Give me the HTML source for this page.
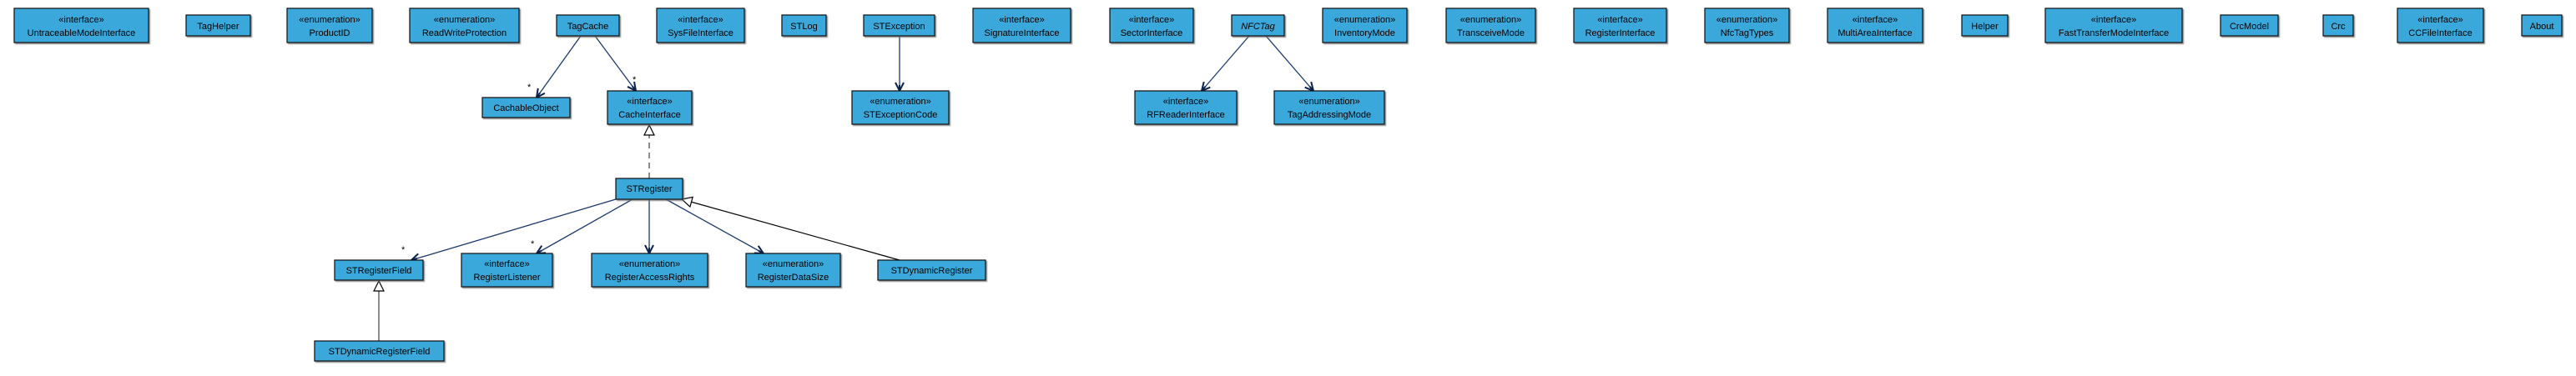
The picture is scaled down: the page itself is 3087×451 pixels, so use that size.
<!DOCTYPE html>
<html><head><meta charset="utf-8"><style>
html,body{margin:0;padding:0;background:#fff;}
svg{display:block;}
text{font-family:"Liberation Sans",sans-serif;font-size:11px;fill:#000;}
</style></head><body>
<svg width="3087" height="451" viewBox="0 0 3087 451" xmlns="http://www.w3.org/2000/svg">
<defs>
<filter id="sh" x="-10%" y="-10%" width="130%" height="150%"><feDropShadow dx="1.5" dy="1.5" stdDeviation="0.6" flood-color="#777" flood-opacity="0.8"/></filter>
<marker id="op" viewBox="0 0 12 12" refX="11" refY="6" markerWidth="12" markerHeight="12" markerUnits="userSpaceOnUse" orient="auto"><polyline points="1,1 11,6 1,11" fill="none" stroke="#0b2150" stroke-width="2"/><line x1="4" y1="6" x2="11" y2="6" stroke="#0b2150" stroke-width="2"/></marker>
<marker id="tri" viewBox="0 0 14 14" refX="13" refY="7" markerWidth="14" markerHeight="14" markerUnits="userSpaceOnUse" orient="auto"><polygon points="1,1 13,7 1,13" fill="#fff" stroke="#000" stroke-width="1.2"/></marker>
</defs>
<g stroke="#1d3a6e" stroke-width="1.3" fill="none">
<line x1="696" y1="43" x2="643" y2="117" marker-end="url(#op)"/>
<line x1="713" y1="43" x2="762" y2="109" marker-end="url(#op)"/>
<line x1="738" y1="239" x2="493" y2="312" marker-end="url(#op)"/>
<line x1="758" y1="239" x2="643" y2="304" marker-end="url(#op)"/>
<line x1="778" y1="239" x2="778" y2="304" marker-end="url(#op)"/>
<line x1="798" y1="239" x2="915" y2="304" marker-end="url(#op)"/>
<line x1="1078" y1="43" x2="1078" y2="109" marker-end="url(#op)"/>
<line x1="1497" y1="43" x2="1440" y2="109" marker-end="url(#op)"/>
<line x1="1517" y1="43" x2="1574" y2="109" marker-end="url(#op)"/>
</g>
<g stroke="#000" stroke-width="1.2" fill="none">
<line x1="778" y1="214" x2="778" y2="150" stroke="#444" stroke-dasharray="7,5" marker-end="url(#tri)"/>
<line x1="1078" y1="312" x2="817" y2="239" marker-end="url(#tri)"/>
<line x1="454" y1="409" x2="454" y2="337" stroke="#444" marker-end="url(#tri)"/>
</g>
<g font-size="10">
<text x="632" y="108">*</text><text x="758" y="99">*</text>
<text x="481" y="303">*</text><text x="636" y="296">*</text>
</g>
<g fill="#3aa8db" stroke="#111" stroke-width="1.2" filter="url(#sh)">
<rect x="17" y="10" width="161" height="41"/>
<rect x="223" y="18" width="77" height="25"/>
<rect x="344" y="10" width="102" height="41"/>
<rect x="491" y="10" width="131" height="41"/>
<rect x="667" y="18" width="75" height="25"/>
<rect x="787" y="10" width="105" height="41"/>
<rect x="937" y="18" width="53" height="25"/>
<rect x="1035" y="18" width="85" height="25"/>
<rect x="1166" y="10" width="117" height="41"/>
<rect x="1330" y="10" width="100" height="41"/>
<rect x="1476" y="18" width="63" height="25"/>
<rect x="1585" y="10" width="101" height="41"/>
<rect x="1733" y="10" width="107" height="41"/>
<rect x="1886" y="10" width="111" height="41"/>
<rect x="2043" y="10" width="101" height="41"/>
<rect x="2190" y="10" width="114" height="41"/>
<rect x="2351" y="18" width="55" height="25"/>
<rect x="2451" y="10" width="164" height="41"/>
<rect x="2661" y="18" width="69" height="25"/>
<rect x="2784" y="18" width="36" height="25"/>
<rect x="2873" y="10" width="103" height="41"/>
<rect x="3022" y="18" width="48" height="25"/>
<rect x="578" y="117" width="105" height="24"/>
<rect x="728" y="109" width="101" height="40"/>
<rect x="1021" y="109" width="116" height="40"/>
<rect x="1360" y="109" width="122" height="40"/>
<rect x="1527" y="109" width="132" height="40"/>
<rect x="738" y="214" width="80" height="25"/>
<rect x="401" y="312" width="106" height="24"/>
<rect x="553" y="304" width="109" height="40"/>
<rect x="709" y="304" width="139" height="40"/>
<rect x="894" y="304" width="113" height="40"/>
<rect x="1052" y="312" width="129" height="24"/>
<rect x="377" y="409" width="155" height="24"/>
</g>
<g text-anchor="middle">
<text x="97.5" y="27">«interface»</text><text x="97.5" y="43">UntraceableModeInterface</text>
<text x="261.5" y="35">TagHelper</text>
<text x="395" y="27">«enumeration»</text><text x="395" y="43">ProductID</text>
<text x="556.5" y="27">«enumeration»</text><text x="556.5" y="43">ReadWriteProtection</text>
<text x="704.5" y="35">TagCache</text>
<text x="839.5" y="27">«interface»</text><text x="839.5" y="43">SysFileInterface</text>
<text x="963.5" y="35">STLog</text>
<text x="1077.5" y="35">STException</text>
<text x="1224.5" y="27">«interface»</text><text x="1224.5" y="43">SignatureInterface</text>
<text x="1380" y="27">«interface»</text><text x="1380" y="43">SectorInterface</text>
<text x="1507.5" y="35" font-style="italic">NFCTag</text>
<text x="1635.5" y="27">«enumeration»</text><text x="1635.5" y="43">InventoryMode</text>
<text x="1786.5" y="27">«enumeration»</text><text x="1786.5" y="43">TransceiveMode</text>
<text x="1941.5" y="27">«interface»</text><text x="1941.5" y="43">RegisterInterface</text>
<text x="2093.5" y="27">«enumeration»</text><text x="2093.5" y="43">NfcTagTypes</text>
<text x="2247" y="27">«interface»</text><text x="2247" y="43">MultiAreaInterface</text>
<text x="2378.5" y="35">Helper</text>
<text x="2533" y="27">«interface»</text><text x="2533" y="43">FastTransferModeInterface</text>
<text x="2695.5" y="35">CrcModel</text>
<text x="2802" y="35">Crc</text>
<text x="2924.5" y="27">«interface»</text><text x="2924.5" y="43">CCFileInterface</text>
<text x="3046" y="35">About</text>
<text x="630.5" y="133">CachableObject</text>
<text x="778.5" y="125">«interface»</text><text x="778.5" y="141">CacheInterface</text>
<text x="1079" y="125">«enumeration»</text><text x="1079" y="141">STExceptionCode</text>
<text x="1421" y="125">«interface»</text><text x="1421" y="141">RFReaderInterface</text>
<text x="1593" y="125">«enumeration»</text><text x="1593" y="141">TagAddressingMode</text>
<text x="778" y="230">STRegister</text>
<text x="454" y="328">STRegisterField</text>
<text x="607.5" y="320">«interface»</text><text x="607.5" y="336">RegisterListener</text>
<text x="778.5" y="320">«enumeration»</text><text x="778.5" y="336">RegisterAccessRights</text>
<text x="950.5" y="320">«enumeration»</text><text x="950.5" y="336">RegisterDataSize</text>
<text x="1116.5" y="328">STDynamicRegister</text>
<text x="454.5" y="425">STDynamicRegisterField</text>
</g>
</svg>
</body></html>
